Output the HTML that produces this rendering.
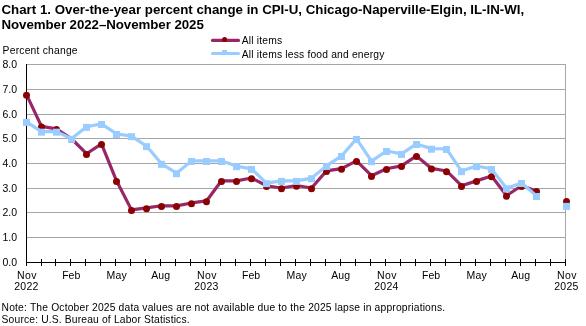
<!DOCTYPE html>
<html><head><meta charset="utf-8"><style>
html,body{margin:0;padding:0;background:#fff;width:586px;height:326px;overflow:hidden}
svg{display:block;will-change:transform}
</style></head><body>
<svg width="586" height="326" viewBox="0 0 586 326">
<line x1="27" y1="237.5" x2="566" y2="237.5" stroke="#A6A6A6" stroke-width="1"/>
<line x1="27" y1="212.5" x2="566" y2="212.5" stroke="#A6A6A6" stroke-width="1"/>
<line x1="27" y1="188.5" x2="566" y2="188.5" stroke="#A6A6A6" stroke-width="1"/>
<line x1="27" y1="163.5" x2="566" y2="163.5" stroke="#A6A6A6" stroke-width="1"/>
<line x1="27" y1="138.5" x2="566" y2="138.5" stroke="#A6A6A6" stroke-width="1"/>
<line x1="27" y1="114.5" x2="566" y2="114.5" stroke="#A6A6A6" stroke-width="1"/>
<line x1="27" y1="89.5" x2="566" y2="89.5" stroke="#A6A6A6" stroke-width="1"/>
<line x1="27" y1="64.5" x2="566" y2="64.5" stroke="#A6A6A6" stroke-width="1"/>
<line x1="565.5" y1="64" x2="565.5" y2="262" stroke="#A6A6A6" stroke-width="1"/>
<line x1="26.5" y1="64" x2="26.5" y2="266" stroke="#000" stroke-width="1"/>
<line x1="26" y1="262.5" x2="566" y2="262.5" stroke="#000" stroke-width="1"/>
<line x1="41.5" y1="259" x2="41.5" y2="266" stroke="#000" stroke-width="1"/>
<line x1="55.5" y1="259" x2="55.5" y2="266" stroke="#000" stroke-width="1"/>
<line x1="70.5" y1="259" x2="70.5" y2="266" stroke="#000" stroke-width="1"/>
<line x1="85.5" y1="259" x2="85.5" y2="266" stroke="#000" stroke-width="1"/>
<line x1="100.5" y1="259" x2="100.5" y2="266" stroke="#000" stroke-width="1"/>
<line x1="115.5" y1="259" x2="115.5" y2="266" stroke="#000" stroke-width="1"/>
<line x1="130.5" y1="259" x2="130.5" y2="266" stroke="#000" stroke-width="1"/>
<line x1="145.5" y1="259" x2="145.5" y2="266" stroke="#000" stroke-width="1"/>
<line x1="160.5" y1="259" x2="160.5" y2="266" stroke="#000" stroke-width="1"/>
<line x1="175.5" y1="259" x2="175.5" y2="266" stroke="#000" stroke-width="1"/>
<line x1="190.5" y1="259" x2="190.5" y2="266" stroke="#000" stroke-width="1"/>
<line x1="205.5" y1="259" x2="205.5" y2="266" stroke="#000" stroke-width="1"/>
<line x1="220.5" y1="259" x2="220.5" y2="266" stroke="#000" stroke-width="1"/>
<line x1="235.5" y1="259" x2="235.5" y2="266" stroke="#000" stroke-width="1"/>
<line x1="250.5" y1="259" x2="250.5" y2="266" stroke="#000" stroke-width="1"/>
<line x1="265.5" y1="259" x2="265.5" y2="266" stroke="#000" stroke-width="1"/>
<line x1="280.5" y1="259" x2="280.5" y2="266" stroke="#000" stroke-width="1"/>
<line x1="295.5" y1="259" x2="295.5" y2="266" stroke="#000" stroke-width="1"/>
<line x1="310.5" y1="259" x2="310.5" y2="266" stroke="#000" stroke-width="1"/>
<line x1="325.5" y1="259" x2="325.5" y2="266" stroke="#000" stroke-width="1"/>
<line x1="340.5" y1="259" x2="340.5" y2="266" stroke="#000" stroke-width="1"/>
<line x1="355.5" y1="259" x2="355.5" y2="266" stroke="#000" stroke-width="1"/>
<line x1="370.5" y1="259" x2="370.5" y2="266" stroke="#000" stroke-width="1"/>
<line x1="385.5" y1="259" x2="385.5" y2="266" stroke="#000" stroke-width="1"/>
<line x1="400.5" y1="259" x2="400.5" y2="266" stroke="#000" stroke-width="1"/>
<line x1="415.5" y1="259" x2="415.5" y2="266" stroke="#000" stroke-width="1"/>
<line x1="430.5" y1="259" x2="430.5" y2="266" stroke="#000" stroke-width="1"/>
<line x1="445.5" y1="259" x2="445.5" y2="266" stroke="#000" stroke-width="1"/>
<line x1="460.5" y1="259" x2="460.5" y2="266" stroke="#000" stroke-width="1"/>
<line x1="475.5" y1="259" x2="475.5" y2="266" stroke="#000" stroke-width="1"/>
<line x1="490.5" y1="259" x2="490.5" y2="266" stroke="#000" stroke-width="1"/>
<line x1="505.5" y1="259" x2="505.5" y2="266" stroke="#000" stroke-width="1"/>
<line x1="520.5" y1="259" x2="520.5" y2="266" stroke="#000" stroke-width="1"/>
<line x1="535.5" y1="259" x2="535.5" y2="266" stroke="#000" stroke-width="1"/>
<line x1="550.5" y1="259" x2="550.5" y2="266" stroke="#000" stroke-width="1"/>
<line x1="565.5" y1="259" x2="565.5" y2="266" stroke="#000" stroke-width="1"/>
<polyline fill="none" stroke="#972766" stroke-width="3.2" stroke-linejoin="round" points="26.50,94.66 41.50,126.39 56.50,128.81 71.50,138.75 86.50,153.74 101.50,143.88 116.50,180.84 131.50,209.88 146.50,207.94 161.50,205.77 176.50,205.91 191.50,202.96 206.50,200.96 221.50,180.81 236.50,180.81 251.50,178.03 266.50,185.79 281.50,188.04 296.50,185.51 311.50,188.04 326.50,170.91 341.50,168.66 356.50,160.87 371.50,175.72 386.50,168.73 401.50,165.85 416.50,155.92 431.50,168.41 446.50,170.98 461.50,185.69 476.50,180.88 491.50,176.03 506.50,195.59 521.50,185.72 536.50,190.92"/>
<circle cx="26.50" cy="95.36" r="3.5" fill="#8B0000"/>
<circle cx="41.50" cy="127.09" r="3.5" fill="#8B0000"/>
<circle cx="56.50" cy="129.51" r="3.5" fill="#8B0000"/>
<circle cx="71.50" cy="139.45" r="3.5" fill="#8B0000"/>
<circle cx="86.50" cy="154.44" r="3.5" fill="#8B0000"/>
<circle cx="101.50" cy="144.57" r="3.5" fill="#8B0000"/>
<circle cx="116.50" cy="181.54" r="3.5" fill="#8B0000"/>
<circle cx="131.50" cy="210.58" r="3.5" fill="#8B0000"/>
<circle cx="146.50" cy="208.64" r="3.5" fill="#8B0000"/>
<circle cx="161.50" cy="206.47" r="3.5" fill="#8B0000"/>
<circle cx="176.50" cy="206.61" r="3.5" fill="#8B0000"/>
<circle cx="191.50" cy="203.66" r="3.5" fill="#8B0000"/>
<circle cx="206.50" cy="201.66" r="3.5" fill="#8B0000"/>
<circle cx="221.50" cy="181.51" r="3.5" fill="#8B0000"/>
<circle cx="236.50" cy="181.51" r="3.5" fill="#8B0000"/>
<circle cx="251.50" cy="178.73" r="3.5" fill="#8B0000"/>
<circle cx="266.50" cy="186.49" r="3.5" fill="#8B0000"/>
<circle cx="281.50" cy="188.74" r="3.5" fill="#8B0000"/>
<circle cx="296.50" cy="186.21" r="3.5" fill="#8B0000"/>
<circle cx="311.50" cy="188.74" r="3.5" fill="#8B0000"/>
<circle cx="326.50" cy="171.61" r="3.5" fill="#8B0000"/>
<circle cx="341.50" cy="169.36" r="3.5" fill="#8B0000"/>
<circle cx="356.50" cy="161.57" r="3.5" fill="#8B0000"/>
<circle cx="371.50" cy="176.42" r="3.5" fill="#8B0000"/>
<circle cx="386.50" cy="169.43" r="3.5" fill="#8B0000"/>
<circle cx="401.50" cy="166.55" r="3.5" fill="#8B0000"/>
<circle cx="416.50" cy="156.62" r="3.5" fill="#8B0000"/>
<circle cx="431.50" cy="169.11" r="3.5" fill="#8B0000"/>
<circle cx="446.50" cy="171.68" r="3.5" fill="#8B0000"/>
<circle cx="461.50" cy="186.39" r="3.5" fill="#8B0000"/>
<circle cx="476.50" cy="181.58" r="3.5" fill="#8B0000"/>
<circle cx="491.50" cy="176.73" r="3.5" fill="#8B0000"/>
<circle cx="506.50" cy="196.29" r="3.5" fill="#8B0000"/>
<circle cx="521.50" cy="186.42" r="3.5" fill="#8B0000"/>
<circle cx="536.50" cy="191.62" r="3.5" fill="#8B0000"/>
<circle cx="566.50" cy="201.55" r="3.5" fill="#8B0000"/>
<polyline fill="none" stroke="#99CCFF" stroke-width="3.2" stroke-linejoin="round" points="26.50,121.79 41.50,131.58 56.50,131.58 71.50,138.78 86.50,126.77 101.50,123.93 116.50,133.94 131.50,136.11 146.50,146.05 161.50,163.74 176.50,173.12 191.50,160.90 206.50,160.90 221.50,160.90 236.50,166.09 251.50,168.83 266.50,183.05 281.50,180.84 296.50,180.84 311.50,178.13 326.50,165.92 341.50,155.95 356.50,138.92 371.50,161.11 386.50,150.96 401.50,153.88 416.50,143.91 431.50,148.61 446.50,148.89 461.50,171.08 476.50,166.02 491.50,168.93 506.50,188.31 521.50,182.94 536.50,195.90"/>
<rect x="23.00" y="118.89" width="7" height="7" fill="#99CCFF"/>
<rect x="38.00" y="128.68" width="7" height="7" fill="#99CCFF"/>
<rect x="53.00" y="128.68" width="7" height="7" fill="#99CCFF"/>
<rect x="68.00" y="135.88" width="7" height="7" fill="#99CCFF"/>
<rect x="83.00" y="123.87" width="7" height="7" fill="#99CCFF"/>
<rect x="98.00" y="121.03" width="7" height="7" fill="#99CCFF"/>
<rect x="113.00" y="131.03" width="7" height="7" fill="#99CCFF"/>
<rect x="128.00" y="133.21" width="7" height="7" fill="#99CCFF"/>
<rect x="143.00" y="143.15" width="7" height="7" fill="#99CCFF"/>
<rect x="158.00" y="160.84" width="7" height="7" fill="#99CCFF"/>
<rect x="173.00" y="170.22" width="7" height="7" fill="#99CCFF"/>
<rect x="188.00" y="158.00" width="7" height="7" fill="#99CCFF"/>
<rect x="203.00" y="158.00" width="7" height="7" fill="#99CCFF"/>
<rect x="218.00" y="158.00" width="7" height="7" fill="#99CCFF"/>
<rect x="233.00" y="163.19" width="7" height="7" fill="#99CCFF"/>
<rect x="248.00" y="165.93" width="7" height="7" fill="#99CCFF"/>
<rect x="263.00" y="180.15" width="7" height="7" fill="#99CCFF"/>
<rect x="278.00" y="177.94" width="7" height="7" fill="#99CCFF"/>
<rect x="293.00" y="177.94" width="7" height="7" fill="#99CCFF"/>
<rect x="308.00" y="175.23" width="7" height="7" fill="#99CCFF"/>
<rect x="323.00" y="163.02" width="7" height="7" fill="#99CCFF"/>
<rect x="338.00" y="153.05" width="7" height="7" fill="#99CCFF"/>
<rect x="353.00" y="136.02" width="7" height="7" fill="#99CCFF"/>
<rect x="368.00" y="158.21" width="7" height="7" fill="#99CCFF"/>
<rect x="383.00" y="148.06" width="7" height="7" fill="#99CCFF"/>
<rect x="398.00" y="150.97" width="7" height="7" fill="#99CCFF"/>
<rect x="413.00" y="141.00" width="7" height="7" fill="#99CCFF"/>
<rect x="428.00" y="145.71" width="7" height="7" fill="#99CCFF"/>
<rect x="443.00" y="145.99" width="7" height="7" fill="#99CCFF"/>
<rect x="458.00" y="168.18" width="7" height="7" fill="#99CCFF"/>
<rect x="473.00" y="163.12" width="7" height="7" fill="#99CCFF"/>
<rect x="488.00" y="166.03" width="7" height="7" fill="#99CCFF"/>
<rect x="503.00" y="185.41" width="7" height="7" fill="#99CCFF"/>
<rect x="518.00" y="180.04" width="7" height="7" fill="#99CCFF"/>
<rect x="533.00" y="193.00" width="7" height="7" fill="#99CCFF"/>
<rect x="563.00" y="202.90" width="7" height="7" fill="#99CCFF"/>
<text x="17" y="266.3" text-anchor="end" font-size="10.5" font-family="Liberation Sans, sans-serif">0.0</text>
<text x="17" y="241.3" text-anchor="end" font-size="10.5" font-family="Liberation Sans, sans-serif">1.0</text>
<text x="17" y="216.3" text-anchor="end" font-size="10.5" font-family="Liberation Sans, sans-serif">2.0</text>
<text x="17" y="192.3" text-anchor="end" font-size="10.5" font-family="Liberation Sans, sans-serif">3.0</text>
<text x="17" y="167.3" text-anchor="end" font-size="10.5" font-family="Liberation Sans, sans-serif">4.0</text>
<text x="17" y="142.3" text-anchor="end" font-size="10.5" font-family="Liberation Sans, sans-serif">5.0</text>
<text x="17" y="118.3" text-anchor="end" font-size="10.5" font-family="Liberation Sans, sans-serif">6.0</text>
<text x="17" y="93.3" text-anchor="end" font-size="10.5" font-family="Liberation Sans, sans-serif">7.0</text>
<text x="17" y="68.3" text-anchor="end" font-size="10.5" font-family="Liberation Sans, sans-serif">8.0</text>
<text x="16.9" y="279" textLength="19.6" lengthAdjust="spacing" font-size="10.5" font-family="Liberation Sans, sans-serif">Nov</text>
<text x="14.2" y="290.2" textLength="24.2" lengthAdjust="spacing" font-size="10.5" font-family="Liberation Sans, sans-serif">2022</text>
<text x="62.2" y="279" textLength="18.1" lengthAdjust="spacing" font-size="10.5" font-family="Liberation Sans, sans-serif">Feb</text>
<text x="106.5" y="279" textLength="20.2" lengthAdjust="spacing" font-size="10.5" font-family="Liberation Sans, sans-serif">May</text>
<text x="151.2" y="279" textLength="19.0" lengthAdjust="spacing" font-size="10.5" font-family="Liberation Sans, sans-serif">Aug</text>
<text x="196.9" y="279" textLength="19.6" lengthAdjust="spacing" font-size="10.5" font-family="Liberation Sans, sans-serif">Nov</text>
<text x="194.2" y="290.2" textLength="24.2" lengthAdjust="spacing" font-size="10.5" font-family="Liberation Sans, sans-serif">2023</text>
<text x="242.1" y="279" textLength="18.1" lengthAdjust="spacing" font-size="10.5" font-family="Liberation Sans, sans-serif">Feb</text>
<text x="286.5" y="279" textLength="20.2" lengthAdjust="spacing" font-size="10.5" font-family="Liberation Sans, sans-serif">May</text>
<text x="331.2" y="279" textLength="19.0" lengthAdjust="spacing" font-size="10.5" font-family="Liberation Sans, sans-serif">Aug</text>
<text x="376.9" y="279" textLength="19.6" lengthAdjust="spacing" font-size="10.5" font-family="Liberation Sans, sans-serif">Nov</text>
<text x="374.2" y="290.2" textLength="24.2" lengthAdjust="spacing" font-size="10.5" font-family="Liberation Sans, sans-serif">2024</text>
<text x="422.1" y="279" textLength="18.1" lengthAdjust="spacing" font-size="10.5" font-family="Liberation Sans, sans-serif">Feb</text>
<text x="466.5" y="279" textLength="20.2" lengthAdjust="spacing" font-size="10.5" font-family="Liberation Sans, sans-serif">May</text>
<text x="511.2" y="279" textLength="19.0" lengthAdjust="spacing" font-size="10.5" font-family="Liberation Sans, sans-serif">Aug</text>
<text x="556.9" y="279" textLength="19.6" lengthAdjust="spacing" font-size="10.5" font-family="Liberation Sans, sans-serif">Nov</text>
<text x="554.2" y="290.2" textLength="24.2" lengthAdjust="spacing" font-size="10.5" font-family="Liberation Sans, sans-serif">2025</text>
<line x1="212.5" y1="40.4" x2="238.5" y2="40.4" stroke="#972766" stroke-width="3.2" stroke-linecap="round"/>
<circle cx="224.6" cy="39.5" r="2.5" fill="#8B0000"/>
<line x1="212.5" y1="53.5" x2="238.5" y2="53.5" stroke="#99CCFF" stroke-width="3.2" stroke-linecap="round"/>
<rect x="222" y="50" width="5" height="5" fill="#99CCFF"/>
<text x="241.8" y="43.5" font-size="10.3" textLength="40.3" lengthAdjust="spacing" font-family="Liberation Sans, sans-serif">All items</text>
<text x="241.8" y="57.5" font-size="10.3" textLength="142.5" lengthAdjust="spacing" font-family="Liberation Sans, sans-serif">All items less food and energy</text>
<text x="2.6" y="53.7" font-size="10.3" textLength="75" lengthAdjust="spacing" font-family="Liberation Sans, sans-serif">Percent change</text>
<text x="1.5" y="13.8" font-size="13.3" font-weight="bold" textLength="522.7" lengthAdjust="spacing" font-family="Liberation Sans, sans-serif">Chart 1. Over-the-year percent change in CPI-U, Chicago-Naperville-Elgin, IL-IN-WI,</text>
<text x="1.5" y="28.8" font-size="13.3" font-weight="bold" textLength="202.3" lengthAdjust="spacing" font-family="Liberation Sans, sans-serif">November 2022–November 2025</text>
<text x="1.6" y="310.8" font-size="10.3" textLength="443.5" lengthAdjust="spacing" font-family="Liberation Sans, sans-serif">Note: The October 2025 data values are not available due to the 2025 lapse in appropriations.</text>
<text x="1.6" y="322.7" font-size="10.3" textLength="188" lengthAdjust="spacing" font-family="Liberation Sans, sans-serif">Source: U.S. Bureau of Labor Statistics.</text>
</svg>
</body></html>
